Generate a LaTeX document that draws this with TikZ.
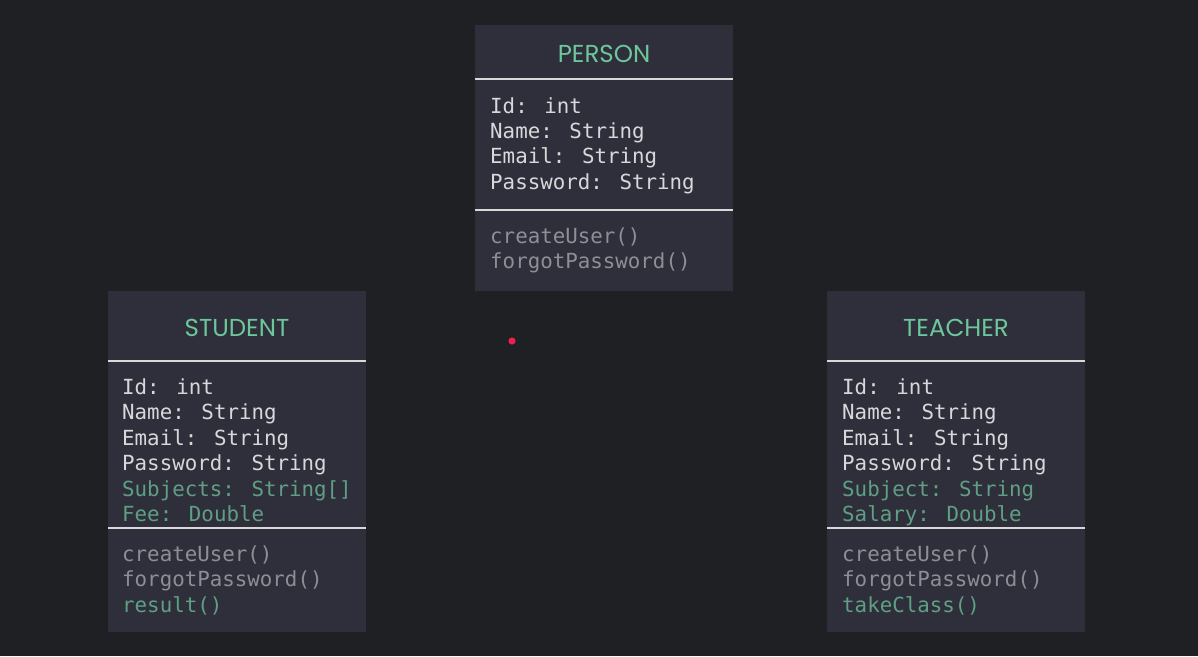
\documentclass[tikz,border=0pt]{standalone}
\usepackage{fontspec}
\setmainfont{Poppins}
\newfontfamily\codefont{DejaVu Sans Mono}
\newfontfamily\titlefont{Poppins}
\definecolor{bgc}{HTML}{1E2023}
\definecolor{boxc}{HTML}{2F2F3B}
\definecolor{rulec}{HTML}{D8D8D8}
\definecolor{titlec}{HTML}{6CC79A}
\definecolor{attrc}{HTML}{D8D8DA}
\definecolor{extrac}{HTML}{5F9F84}
\definecolor{methc}{HTML}{8E8E95}
\definecolor{dotc}{HTML}{E8204A}
\begin{document}
\begin{tikzpicture}[x=1pt,y=-1pt,
  classbox/.style={fill=boxc,draw=none,inner sep=0,anchor=north west,minimum width=258pt},
  divider/.style={draw=rulec,line width=1.5pt},
  ctitle/.style={inner sep=0,anchor=base,text=titlec,font=\titlefont\fontsize{24.5}{28}\selectfont},
  attr/.style={inner sep=0,anchor=base west,text=attrc,font=\codefont\fontsize{20.8}{25}\selectfont},
  extra/.style={attr,text=extrac},
  meth/.style={attr,text=methc}]
\fill[bgc] (0,0) rectangle (1198,656);
\useasboundingbox (0,0) rectangle (1198,656);
% PERSON
\node[classbox,minimum height=266pt] (person) at (475,25) {};
\draw[divider] (475,79) -- (733,79);
\draw[divider] (475,210) -- (733,210);
\node[ctitle] (ptitle) at (604,62) {PERSON};
\node[attr] (p1) at (490,113) {Id: int};
\node[attr] (p2) at (490,138.3) {Name: String};
\node[attr] (p3) at (490,163.6) {Email: String};
\node[attr] (p4) at (490,189) {Password: String};
\node[meth] (p5) at (490,243) {createUser()};
\node[meth] (p6) at (490,268.5) {forgotPassword()};
% STUDENT
\node[classbox,minimum height=341pt] (student) at (108,291) {};
\draw[divider] (108,361) -- (366,361);
\draw[divider] (108,528) -- (366,528);
\node[ctitle] (stitle) at (237,336) {STUDENT};
\node[attr] (s1) at (122,394) {Id: int};
\node[attr] (s2) at (122,419.5) {Name: String};
\node[attr] (s3) at (122,445) {Email: String};
\node[attr] (s4) at (122,470.5) {Password: String};
\node[extra] (s5) at (122,496) {Subjects: String[]};
\node[extra] (s6) at (122,521.5) {Fee: Double};
\node[meth] (s7) at (122,561) {createUser()};
\node[meth] (s8) at (122,586.5) {forgotPassword()};
\node[extra] (s9) at (122,612) {result()};
% TEACHER
\node[classbox,minimum height=341pt] (teacher) at (827,291) {};
\draw[divider] (827,361) -- (1085,361);
\draw[divider] (827,528) -- (1085,528);
\node[ctitle] (ttitle) at (956,336) {TEACHER};
\node[attr] (t1) at (842,394) {Id: int};
\node[attr] (t2) at (842,419.5) {Name: String};
\node[attr] (t3) at (842,445) {Email: String};
\node[attr] (t4) at (842,470.5) {Password: String};
\node[extra] (t5) at (842,496) {Subject: String};
\node[extra] (t6) at (842,521.5) {Salary: Double};
\node[meth] (t7) at (842,561) {createUser()};
\node[meth] (t8) at (842,586.5) {forgotPassword()};
\node[extra] (t9) at (842,612) {takeClass()};
% pointer dot
\fill[dotc] (512,341) circle (3.6pt);
\end{tikzpicture}
\end{document}
